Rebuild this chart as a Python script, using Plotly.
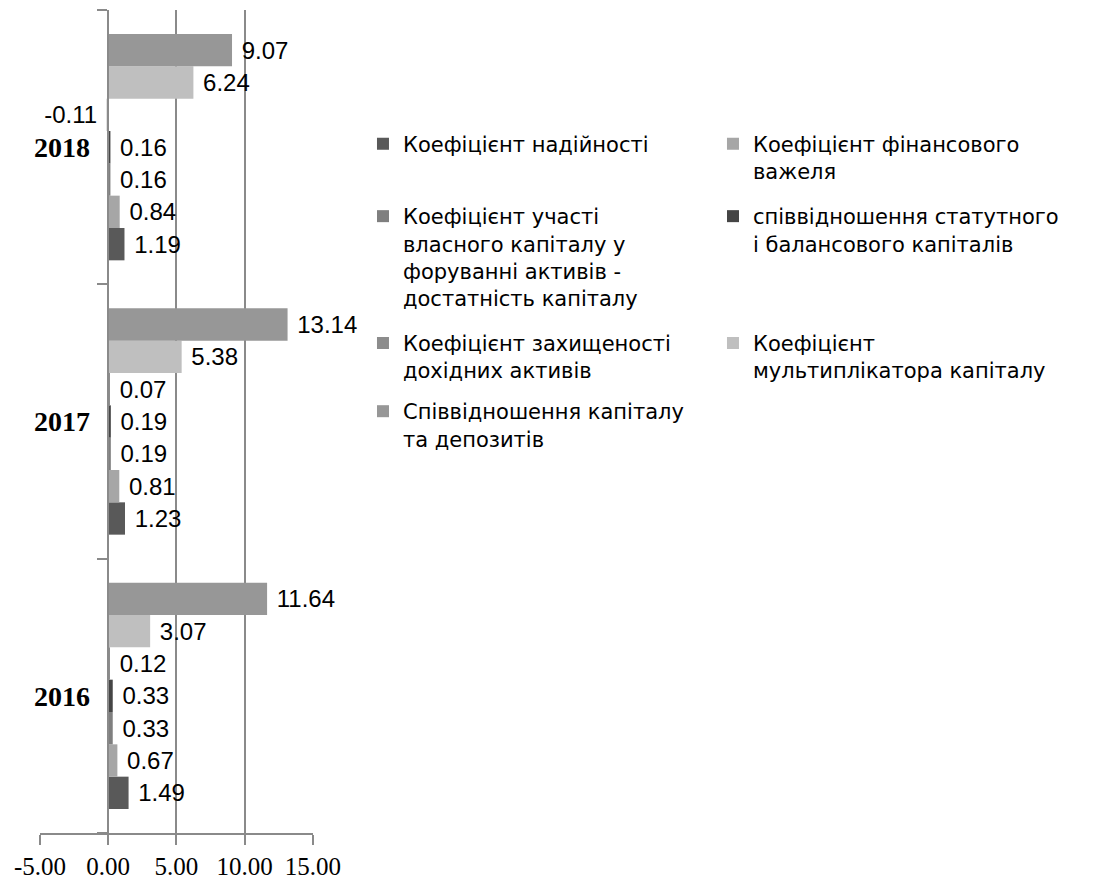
import plotly.graph_objects as go

# Years shown on the category axis (bottom to top)
years = ["2016", "2017", "2018"]

# Indicator names (legend order)
series_names = [
    "Коефіцієнт надійності",
    "Коефіцієнт фінансового<br>важеля",
    "Коефіцієнт участі<br>власного капіталу у<br>форуванні активів -<br>достатність капіталу",
    "співвідношення статутного<br>і балансового капіталів",
    "Коефіцієнт захищеності<br>дохідних активів",
    "Коефіцієнт<br>мультиплікатора капіталу",
    "Співвідношення капіталу<br>та депозитів",
]

# Values per indicator for 2016, 2017, 2018
reliability = [1.49, 1.23, 1.19]
fin_leverage = [0.67, 0.81, 0.84]
equity_share = [0.33, 0.19, 0.16]
charter_ratio = [0.33, 0.19, 0.16]
asset_protection = [0.12, 0.07, -0.11]
capital_multiplier = [3.07, 5.38, 6.24]
capital_deposits = [11.64, 13.14, 9.07]

series_values = [reliability, fin_leverage, equity_share, charter_ratio,
                 asset_protection, capital_multiplier, capital_deposits]

series_colors = ["#595959", "#a6a6a6", "#7f7f7f", "#454545",
                 "#8c8c8c", "#bfbfbf", "#979797"]

# Legend rows: each indicator is placed in one of four legend rows
legend_rows = ["legend", "legend", "legend2", "legend2",
               "legend3", "legend3", "legend4"]

# X-axis ticks
x_tickvals = [-5, 0, 5, 10, 15]
x_ticktext = ["-5.00", "0.00", "5.00", "10.00", "15.00"]

NBSP = "\u00a0"


def label(v):
    s = f"{v:.2f}"
    return s + NBSP if v < 0 else NBSP + s


fig = go.Figure()
for name, vals, color, lg in zip(series_names, series_values,
                                 series_colors, legend_rows):
    fig.add_trace(go.Bar(
        y=years,
        x=vals,
        name=name,
        orientation="h",
        marker=dict(color=color, line=dict(width=0)),
        text=[label(v) for v in vals],
        textposition="outside",
        constraintext="none",
        cliponaxis=False,
        textangle=0,
        textfont=dict(family="Liberation Sans", size=24, color="#000000"),
        legend=lg,
    ))

axis_gray = "#8a8a8a"
x_domain_end = 0.2575
zero_pos = x_domain_end * (0 - (-5)) / (15 - (-5))

legend_common = dict(
    orientation="h",
    xanchor="left",
    yanchor="top",
    x=0.3047,
    entrywidth=305,
    entrywidthmode="pixels",
    valign="top",
    bgcolor="rgba(0,0,0,0)",
    font=dict(family="DejaVu Sans", size=21, color="#000000"),
    traceorder="normal",
)

fig.update_layout(
    width=1104,
    height=881,
    margin=dict(l=40, r=4, t=10, b=48, autoexpand=False),
    paper_bgcolor="#ffffff",
    plot_bgcolor="#ffffff",
    barmode="group",
    bargap=0.175,
    bargroupgap=0,
    xaxis=dict(
        domain=[0, x_domain_end],
        range=[-5, 15],
        tickvals=x_tickvals,
        ticktext=x_ticktext,
        showgrid=True,
        gridcolor=axis_gray,
        gridwidth=1.5,
        zeroline=False,
        showline=True,
        linecolor=axis_gray,
        linewidth=1.5,
        ticks="outside",
        ticklen=10,
        tickcolor=axis_gray,
        tickwidth=1.5,
        tickfont=dict(family="Liberation Serif", size=25, color="#000000"),
    ),
    yaxis=dict(
        type="category",
        categoryorder="array",
        categoryarray=years,
        range=[-0.5, 2.5],
        anchor="free",
        position=zero_pos,
        showgrid=False,
        zeroline=False,
        showline=True,
        linecolor=axis_gray,
        linewidth=1.5,
        ticks="outside",
        tickson="boundaries",
        ticklen=10,
        tickcolor=axis_gray,
        tickwidth=1.5,
        ticklabelstandoff=12,
        tickfont=dict(family="Liberation Serif", size=28,
                      color="#000000", weight="bold"),
    ),
    legend=dict(legend_common, y=0.862),
    legend2=dict(legend_common, y=0.774),
    legend3=dict(legend_common, y=0.620),
    legend4=dict(legend_common, y=0.537),
)

fig.write_html("out.html")
